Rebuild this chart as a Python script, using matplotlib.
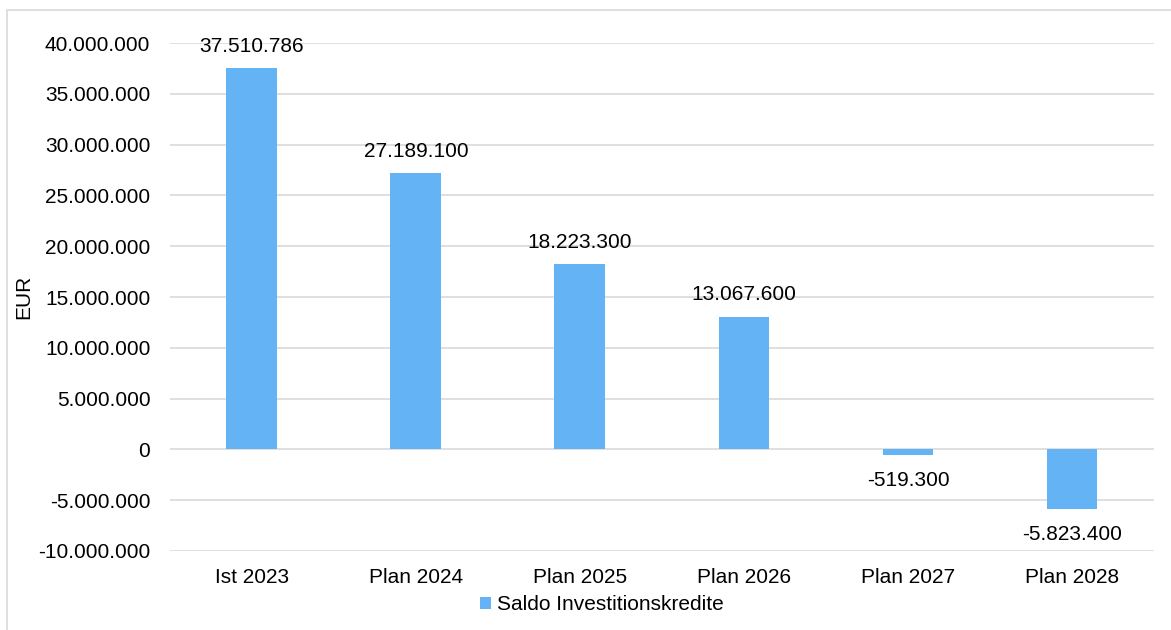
import matplotlib.pyplot as plt
from matplotlib.patches import Rectangle
from matplotlib.ticker import FuncFormatter

plt.rcParams['font.family'] = ['Liberation Sans', 'DejaVu Sans']

categories = ['Ist 2023', 'Plan 2024', 'Plan 2025', 'Plan 2026', 'Plan 2027', 'Plan 2028']
saldo = [37510786, 27189100, 18223300, 13067600, -519300, -5823400]
y_ticks = [-10000000, -5000000, 0, 5000000, 10000000, 15000000, 20000000,
           25000000, 30000000, 35000000, 40000000]

FS = 15


def de_fmt(v, pos=None):
    s = '{:,.0f}'.format(v).replace(',', '.')
    return s


fig = plt.figure(figsize=(11.71, 6.30), dpi=100)
ax = fig.add_axes([0.145, 0.1254, 0.8405, 0.8063])

# outer chart frame (right edge runs off the image)
fig.patches.append(Rectangle((0.006, -0.01), 1.0, 0.994, transform=fig.transFigure,
                             fill=False, edgecolor='#d9d9d9', linewidth=1.2))

bars = ax.bar(range(len(categories)), saldo, width=0.31, color='#63b3f5',
              label='Saldo Investitionskredite', zorder=3)

ax.set_ylim(-10000000, 40000000)
ax.set_xlim(-0.5, len(categories) - 0.5)
ax.set_yticks(y_ticks)
ax.yaxis.set_major_formatter(FuncFormatter(de_fmt))
ax.set_xticks(range(len(categories)))
ax.set_xticklabels(categories)
ax.tick_params(axis='both', length=0, labelsize=FS, colors='black')
ax.tick_params(axis='x', pad=12)
ax.tick_params(axis='y', pad=14)
ax.grid(axis='y', color='#d9d9d9', linewidth=1.2, zorder=0)
for s in ax.spines.values():
    s.set_visible(False)

ax.set_ylabel('EUR', fontsize=FS)
ax.yaxis.set_label_coords(-0.139, 0.5)

for b, v in zip(bars, saldo):
    x = b.get_x() + b.get_width() / 2
    if v >= 0:
        ax.annotate(de_fmt(v), (x, v), xytext=(0, 9), textcoords='offset points',
                    ha='center', va='bottom', fontsize=FS)
    else:
        ax.annotate(de_fmt(v), (x, v), xytext=(0, -12), textcoords='offset points',
                    ha='center', va='top', fontsize=FS)

fig.legend(loc='lower center', bbox_to_anchor=(0.514, -0.005), frameon=False, fontsize=FS,
           handlelength=0.55, handleheight=0.55, handletextpad=0.3)

fig.savefig('out.png', dpi=100)
